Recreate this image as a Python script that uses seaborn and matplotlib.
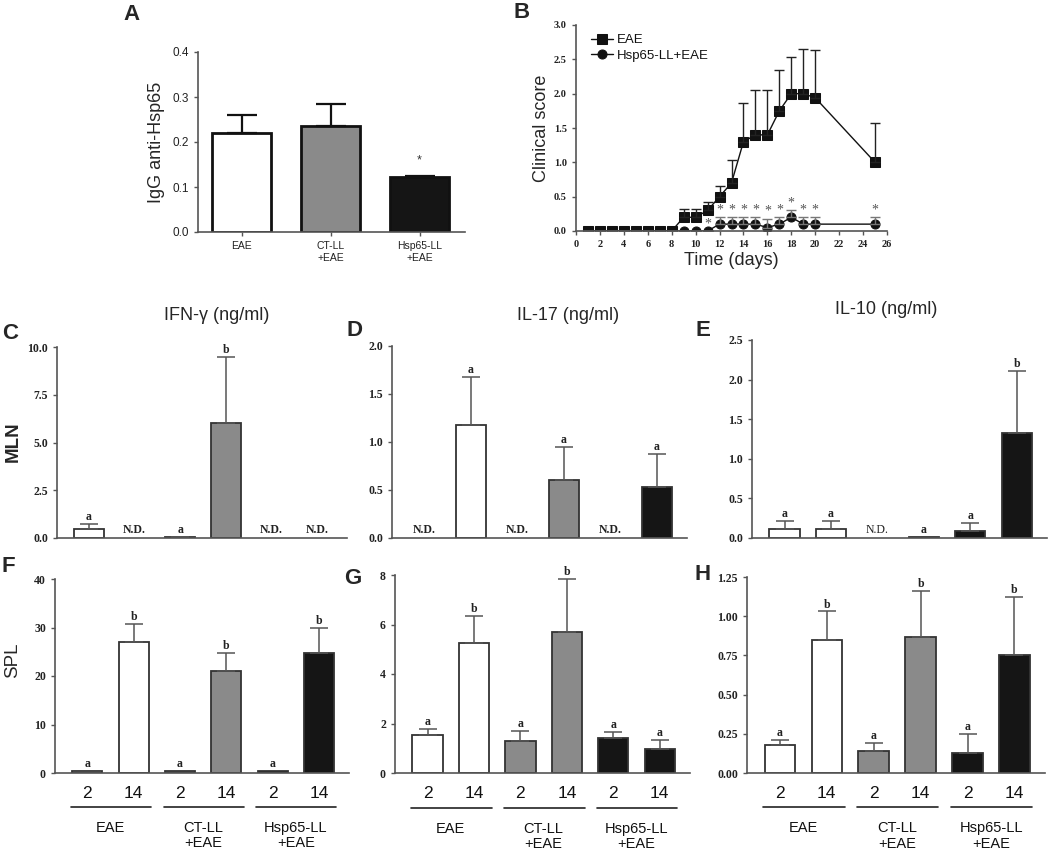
import numpy as np
import pandas as pd
import seaborn as sns
import matplotlib
matplotlib.use("Agg")
import matplotlib.pyplot as plt

sns.set_style("ticks")
plt.rcParams['font.family'] = ['Liberation Sans', 'DejaVu Sans']

# ---- data ----
# panel A
a_groups = ["EAE", "CT-LL\n+EAE", "Hsp65-LL\n+EAE"]
a_vals = [0.22, 0.235, 0.122]
a_errs = [0.04, 0.05, 0.003]

# panel B
days = [1, 2, 3, 4, 5, 6, 7, 8, 9, 10, 11, 12, 13, 14, 15, 16, 17, 18, 19, 20, 25]
eae_score = [0, 0, 0, 0, 0, 0, 0, 0, 0.2, 0.2, 0.3, 0.5, 0.7, 1.3, 1.4, 1.4, 1.75, 2.0, 2.0, 1.94, 1.0]
eae_err = [0, 0, 0, 0, 0, 0, 0, 0, 0.12, 0.12, 0.12, 0.15, 0.34, 0.56, 0.66, 0.66, 0.6, 0.54, 0.65, 0.69, 0.58]
hsp_score = [0, 0, 0, 0, 0, 0, 0, 0, 0, 0, 0, 0.1, 0.1, 0.1, 0.1, 0.05, 0.1, 0.2, 0.1, 0.1, 0.1]
hsp_err = [0, 0, 0, 0, 0, 0, 0, 0, 0, 0, 0, 0.1, 0.1, 0.1, 0.1, 0.13, 0.1, 0.1, 0.1, 0.1, 0.1]
star_days = [11, 12, 13, 14, 15, 16, 17, 18, 19, 20, 25]

# panels C-H : six bars each (EAE 2/14, CT-LL 2/14, Hsp65-LL 2/14)
conds = ["EAE 2", "EAE 14", "CT 2", "CT 14", "Hsp 2", "Hsp 14"]
day_labels = ["2", "14", "2", "14", "2", "14"]
group_names = ["EAE", "CT-LL\n+EAE", "Hsp65-LL\n+EAE"]
nan = np.nan

c_vals = [0.45, nan, 0.05, 6.0, nan, nan]
c_errs = [0.27, nan, 0.02, 3.5, nan, nan]
c_lett = ["a", None, "a", "b", None, None]

d_vals = [nan, 1.18, nan, 0.60, nan, 0.53]
d_errs = [nan, 0.50, nan, 0.35, nan, 0.35]
d_lett = [None, "a", None, "a", None, "a"]

e_vals = [0.11, 0.11, nan, 0.01, 0.09, 1.33]
e_errs = [0.11, 0.11, nan, 0.0, 0.10, 0.78]
e_lett = ["a", "a", None, "a", "a", "b"]

f_vals = [0.5, 27.0, 0.5, 21.0, 0.5, 24.8]
f_errs = [0.0, 3.7, 0.0, 3.8, 0.0, 5.0]
f_lett = ["a", "b", "a", "b", "a", "b"]

g_vals = [1.52, 5.27, 1.30, 5.70, 1.43, 0.98]
g_errs = [0.27, 1.08, 0.40, 2.15, 0.23, 0.36]
g_lett = ["a", "b", "a", "b", "a", "a"]

h_vals = [0.18, 0.85, 0.14, 0.87, 0.13, 0.75]
h_errs = [0.03, 0.18, 0.05, 0.29, 0.12, 0.37]
h_lett = ["a", "b", "a", "b", "a", "b"]

bar_colors = ["#ffffff", "#ffffff", "#8a8a8a", "#8a8a8a", "#151515", "#151515"]
spine_c = "#555555"
edge_c = "#333333"

W, H = 1050, 850
fig = plt.figure(figsize=(10.5, 8.5), dpi=100)


def box(l, t, r, b):
    return [l / W, 1 - b / H, (r - l) / W, (b - t) / H]


def px_text(x, y, s, **kw):
    fig.text(x / W, 1 - y / H, s, **kw)


def serif_ticks(ax, size=8):
    for lab in ax.get_yticklabels() + ax.get_xticklabels():
        lab.set_fontfamily("Liberation Serif")
        lab.set_fontweight("bold")
        lab.set_fontsize(size)
        lab.set_color("#222222")


def style_spines(ax):
    sns.despine(ax=ax)
    for s in ["left", "bottom"]:
        ax.spines[s].set_color(spine_c)
        ax.spines[s].set_linewidth(1.2)
    ax.tick_params(axis="y", colors=spine_c, length=3, width=1)


# ---- panel A ----
axA = fig.add_axes(box(198, 52, 465, 232))
dfA = pd.DataFrame({"grp": a_groups, "val": a_vals})
sns.barplot(data=dfA, x="grp", y="val", hue="grp", order=a_groups, hue_order=a_groups,
            palette=dict(zip(a_groups, ["#ffffff", "#8a8a8a", "#151515"])), legend=False,
            width=0.67, edgecolor="#111111", linewidth=2, errorbar=None, ax=axA)
axA.errorbar(range(3), a_vals, yerr=[np.zeros(3), a_errs], fmt="none", ecolor="#111111",
             elinewidth=1.6, capsize=11, capthick=1.6)
axA.text(2, 0.16, "*", ha="center", va="center", fontsize=9, color="#333333")
axA.set_xlim(-0.49, 2.51)
axA.set_ylim(0, 0.4)
axA.set_yticks([0.0, 0.1, 0.2, 0.3, 0.4])
axA.set_yticklabels(["0.0", "0.1", "0.2", "0.3", "0.4"], fontsize=8.5)
axA.set_xticks(range(3))
axA.set_xticklabels(a_groups, fontsize=7.5, linespacing=1.3)
axA.set_xlabel("")
axA.set_ylabel("IgG anti-Hsp65", fontsize=13)
axA.yaxis.set_label_coords(-0.125, 0.5)
style_spines(axA)
axA.tick_params(axis="x", colors=spine_c, length=3, width=1)
for lab in axA.get_xticklabels() + axA.get_yticklabels():
    lab.set_color("#222222")

# ---- panel B ----
axB = fig.add_axes(box(576, 25, 887, 231))
sns.lineplot(x=days, y=eae_score, marker="s", markersize=6.5, color="#111111", linewidth=1,
             markeredgecolor="#111111", label="EAE", ax=axB)
sns.lineplot(x=days, y=hsp_score, marker="o", markersize=6.5, color="#111111", linewidth=1,
             markeredgecolor="#111111", label="Hsp65-LL+EAE", ax=axB)
axB.errorbar(days, eae_score, yerr=[np.zeros(len(days)), eae_err], fmt="none",
             ecolor="#222222", elinewidth=1, capsize=3.5)
axB.errorbar(days, hsp_score, yerr=[np.zeros(len(days)), hsp_err], fmt="none",
             ecolor="#777777", elinewidth=1, capsize=3.5)
for d in star_days:
    i = days.index(d)
    top = hsp_score[i] + hsp_err[i]
    axB.text(d, top + 0.01, "*", ha="center", va="bottom", fontsize=10,
             family="Liberation Serif", color="#555555")
axB.set_xlim(0, 26)
axB.set_ylim(0, 3)
axB.set_xticks(range(0, 27, 2))
axB.set_yticks([0, 0.5, 1.0, 1.5, 2.0, 2.5, 3.0])
axB.set_yticklabels(["0.0", "0.5", "1.0", "1.5", "2.0", "2.5", "3.0"])
axB.set_xlabel("Time (days)", fontsize=13, labelpad=2)
axB.set_ylabel("Clinical score", fontsize=13)
axB.yaxis.set_label_coords(-0.085, 0.5)
style_spines(axB)
axB.tick_params(axis="x", colors=spine_c, length=3, width=1)
serif_ticks(axB, 7.5)
leg = axB.legend(loc="upper left", bbox_to_anchor=(0.02, 1.0), frameon=False, fontsize=9.5,
                 handlelength=1.6, handletextpad=0.3, labelspacing=0.25, borderaxespad=0.3)
for t in leg.get_texts():
    t.set_color("#111111")


# ---- panels C-H ----
def bar_panel(rect, vals, errs, letters, ylim, yticks, yticklabels, nd_bold=True, bottom_row=False):
    ax = fig.add_axes(box(*rect))
    df = pd.DataFrame({"cond": conds, "val": vals})
    sns.barplot(data=df, x="cond", y="val", hue="cond", order=conds, hue_order=conds,
                palette=dict(zip(conds, bar_colors)), legend=False, width=0.65,
                edgecolor=edge_c, linewidth=1.3, errorbar=None, ax=ax)
    rng = ylim[1] - ylim[0]
    for i, (v, e, l) in enumerate(zip(vals, errs, letters)):
        if np.isnan(v):
            ax.text(i, rng * 0.008, "N.D.", ha="center", va="bottom", fontsize=8.5,
                    family="Liberation Serif", fontweight="bold" if nd_bold else "normal",
                    color="#222222")
            continue
        if e > 0:
            ax.errorbar(i, v, yerr=[[0], [e]], fmt="none", ecolor="#555555",
                        elinewidth=1.1, capsize=6.5, capthick=1.1)
        if l:
            ax.text(i, v + e + rng * 0.005, l, ha="center", va="bottom", fontsize=8.5,
                    family="Liberation Serif", fontweight="bold", color="#222222")
    ax.set_xlim(-0.7, 5.65)
    ax.set_ylim(*ylim)
    ax.set_yticks(yticks)
    ax.set_yticklabels(yticklabels)
    ax.set_xlabel("")
    ax.set_ylabel("")
    style_spines(ax)
    serif_ticks(ax, 8.5)
    if bottom_row:
        ax.set_xticks(range(6))
        ax.set_xticklabels(day_labels, fontsize=12.5, family="Liberation Sans",
                           fontweight="normal", color="#111111")
        ax.tick_params(axis="x", length=0, pad=9)
        for g in range(3):
            x0, x1 = 2 * g - 0.35, 2 * g + 1.38
            ax.plot([x0, x1], [-0.175, -0.175], color="#222222", linewidth=1.2,
                    transform=ax.get_xaxis_transform(), clip_on=False)
            ax.text(2 * g + 0.5, -0.245, group_names[g], ha="center", va="top",
                    fontsize=10.5, linespacing=1.15, color="#111111",
                    transform=ax.get_xaxis_transform())
    else:
        ax.set_xticks([])
    return ax


bar_panel((57, 347, 347, 538), c_vals, c_errs, c_lett, (0, 10),
          [0, 2.5, 5, 7.5, 10], ["0.0", "2.5", "5.0", "7.5", "10.0"])
bar_panel((392, 346, 687, 538), d_vals, d_errs, d_lett, (0, 2),
          [0, 0.5, 1, 1.5, 2], ["0.0", "0.5", "1.0", "1.5", "2.0"])
bar_panel((752, 340, 1047, 538), e_vals, e_errs, e_lett, (0, 2.5),
          [0, 0.5, 1, 1.5, 2, 2.5], ["0.0", "0.5", "1.0", "1.5", "2.0", "2.5"], nd_bold=False)
bar_panel((55, 579, 349, 773), f_vals, f_errs, f_lett, (0, 40),
          [0, 10, 20, 30, 40], ["0", "10", "20", "30", "40"], bottom_row=True)
bar_panel((395, 575, 690, 773), g_vals, g_errs, g_lett, (0, 8),
          [0, 2, 4, 6, 8], ["0", "2", "4", "6", "8"], bottom_row=True)
bar_panel((747, 577, 1045, 773), h_vals, h_errs, h_lett, (0, 1.25),
          [0, 0.25, 0.5, 0.75, 1.0, 1.25], ["0.00", "0.25", "0.50", "0.75", "1.00", "1.25"],
          bottom_row=True)

# titles
px_text(217, 315, "IFN-\u03b3 (ng/ml)", ha="center", va="center", fontsize=13)
px_text(568, 315, "IL-17 (ng/ml)", ha="center", va="center", fontsize=13)
px_text(886, 309, "IL-10 (ng/ml)", ha="center", va="center", fontsize=13)

# row labels
px_text(13, 442, "MLN", ha="center", va="center", rotation=90, fontsize=13.5, fontweight="bold")
px_text(13, 660, "SPL", ha="center", va="center", rotation=90, fontsize=13.5)

# panel letters
for s, x, y in [("A", 131, 15), ("B", 522, 13), ("C", 10, 333), ("D", 354, 330),
                ("E", 703, 330), ("F", 8, 566), ("G", 353, 578), ("H", 703, 575)]:
    px_text(x, y, s, ha="center", va="center", fontsize=16, fontweight="bold")

fig.savefig("out.png", dpi=100)
